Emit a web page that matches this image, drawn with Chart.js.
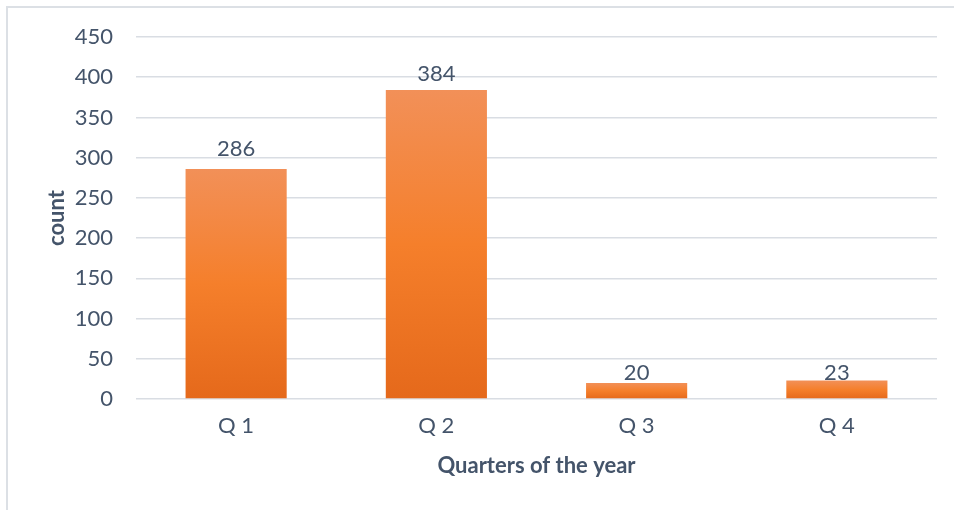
<!DOCTYPE html>
<html>
<head>
<meta charset="utf-8">
<script src="https://cdn.jsdelivr.net/npm/chart.js@4/dist/chart.umd.min.js"></script>
<style>
  html, body { margin: 0; padding: 0; background: #ffffff; }
  #wrap { width: 954px; height: 510px; position: relative; }
</style>
</head>
<body>
<div id="wrap"><canvas id="quarterChart" width="954" height="510"></canvas></div>
<script>
// Counts per quarter
const quarters = ["Q 1", "Q 2", "Q 3", "Q 4"];
const counts = [286, 384, 20, 23];
const yTicks = [0, 50, 100, 150, 200, 250, 300, 350, 400, 450];

const textColor = "#44546A";
const gridColor = "#D9DDE3";
const fontFamily = "Lato, 'Open Sans', sans-serif";

// Each bar gets its own top-to-bottom orange gradient
function barGradient(context) {
    const chart = context.chart;
    const yScale = chart.scales.y;
    if (!yScale || context.type !== "data") return "#F57F2B";
    const value = context.raw;
    const top = yScale.getPixelForValue(value);
    const base = yScale.getPixelForValue(0);
    if (!isFinite(top) || top === base) return "#F57F2B";
    const g = chart.ctx.createLinearGradient(0, top, 0, base);
    g.addColorStop(0, "#F29058");
    g.addColorStop(0.5, "#F57F2B");
    g.addColorStop(1, "#E5691B");
    return g;
}

// Value labels above the bars (gap in px between text and bar top, per bar)
const valueLabels = {
    id: "valueLabels",
    afterDatasetsDraw(chart, args, opts) {
        const ctx = chart.ctx;
        const meta = chart.getDatasetMeta(0);
        const gaps = opts.gaps || [];
        ctx.save();
        ctx.font = "22px " + fontFamily;
        ctx.fillStyle = textColor;
        ctx.textAlign = "center";
        ctx.textBaseline = "alphabetic";
        meta.data.forEach((bar, i) => {
            const gap = gaps[i] !== undefined ? gaps[i] : 10;
            ctx.fillText(String(counts[i]), bar.x, bar.y - gap);
        });
        ctx.restore();
    }
};

// Thin light frame around the whole chart
const chartFrame = {
    id: "chartFrame",
    beforeDraw(chart) {
        const ctx = chart.ctx;
        ctx.save();
        ctx.strokeStyle = "#DCE0E5";
        ctx.lineWidth = 2;
        ctx.strokeRect(7, 7, chart.width + 10, chart.height + 10);
        ctx.restore();
    }
};

new Chart(document.getElementById("quarterChart"), {
    type: "bar",
    data: {
        labels: quarters,
        datasets: [{
            label: "count",
            data: counts,
            backgroundColor: barGradient,
            borderWidth: 0,
            categoryPercentage: 1.0,
            barPercentage: 0.505
        }]
    },
    options: {
        responsive: false,
        animation: false,
        devicePixelRatio: 1,
        layout: { padding: { left: 0, top: 37, right: 17, bottom: 0 } },
        plugins: {
            legend: { display: false },
            tooltip: { enabled: false },
            valueLabels: { gaps: [13, 9, 3, 0] }
        },
        scales: {
            x: {
                grid: { display: false, drawTicks: false },
                border: { display: false },
                ticks: {
                    color: textColor,
                    font: { family: fontFamily, size: 22 },
                    padding: 14
                },
                title: {
                    display: true,
                    text: "Quarters of the year",
                    color: textColor,
                    font: { family: fontFamily, size: 22, weight: "bold" },
                    padding: { top: 0, bottom: 31 }
                },
                afterFit(scale) { scale.height = 111; }
            },
            y: {
                min: 0,
                max: 450,
                afterBuildTicks(scale) {
                    scale.ticks = yTicks.map(v => ({ value: v }));
                },
                grid: {
                    color: gridColor,
                    lineWidth: 1.5,
                    drawTicks: false
                },
                border: { display: false },
                ticks: {
                    color: textColor,
                    font: { family: fontFamily, size: 22 },
                    padding: 23
                },
                title: {
                    display: true,
                    text: "count",
                    color: textColor,
                    font: { family: fontFamily, size: 22, weight: "bold" },
                    padding: { top: 44, bottom: 0 }
                },
                afterFit(scale) { scale.width = 136; }
            }
        }
    },
    plugins: [chartFrame, valueLabels]
});
</script>
</body>
</html>
